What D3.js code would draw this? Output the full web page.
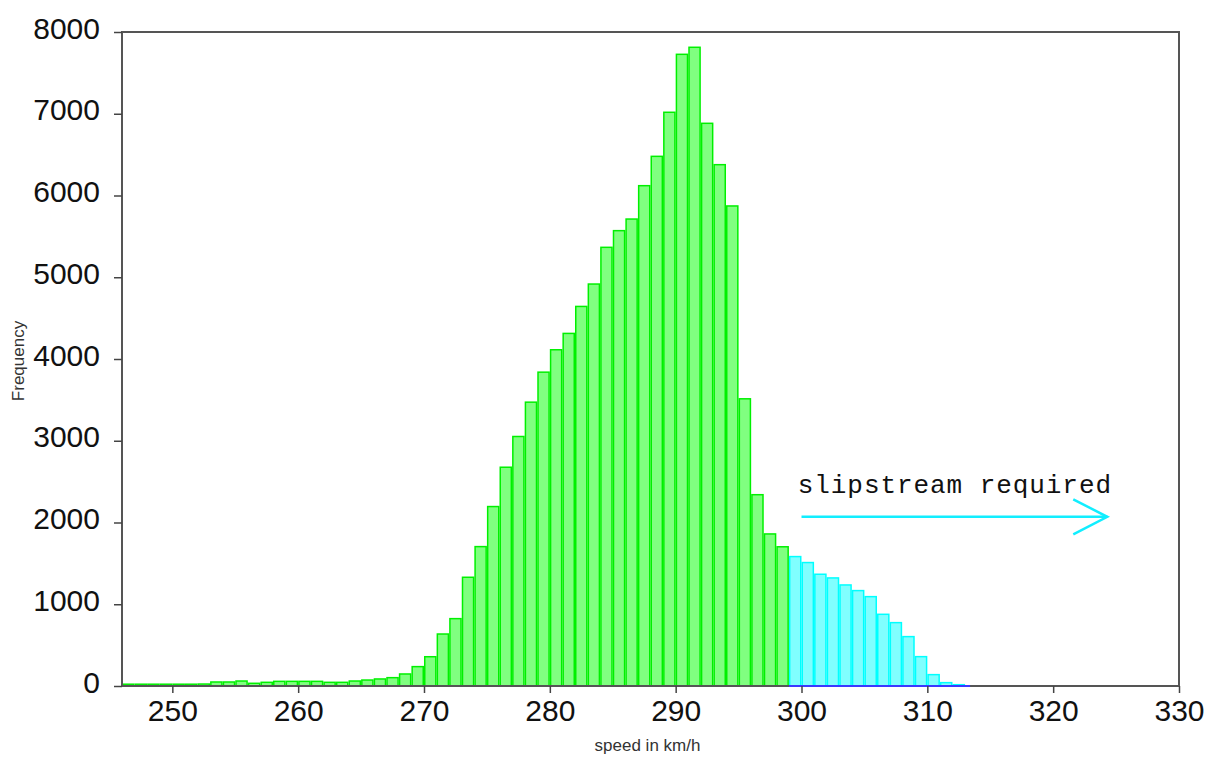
<!DOCTYPE html>
<html>
<head>
<meta charset="utf-8">
<script src="https://cdn.jsdelivr.net/npm/d3@7"></script>
<style>
  html, body { margin: 0; padding: 0; background: #fff; }
  svg { display: block; }
</style>
</head>
<body>
<svg id="chart" width="1214" height="758"></svg>
<script>
// ---- data ----
const speeds = [246,247,248,249,250,251,252,253,254,255,256,257,258,259,260,261,262,263,264,265,
  266,267,268,269,270,271,272,273,274,275,276,277,278,279,280,281,282,283,284,285,
  286,287,288,289,290,291,292,293,294,295,296,297,298,299,300,301,302,303,304,305,
  306,307,308,309,310,311,312];
const counts = [22,22,22,22,22,22,24,49,49,61,33,45,57,57,57,57,45,45,61,73,
  86,102,147,237,358,636,824,1330,1705,2195,2676,3052,3472,3839,4113,4313,4643,4917,5366,5570,
  5712,6120,6479,7018,7727,7813,6883,6377,5872,3513,2340,1860,1703,1583,1510,1367,1322,1236,1167,1093,
  877,775,604,359,139,41,16];
const slipstreamFrom = 299;
const binWidth = 1;
const xTicks = [250,260,270,280,290,300,310,320,330];
const yTicks = [0,1000,2000,3000,4000,5000,6000,7000,8000];
const xDomain = [246, 330];
const yDomain = [0, 8000];
const annotationText = "slipstream required";
const arrowFrom = 300, arrowTo = 324.3, arrowValue = 2070, textValue = 2360, textStart = 299.7, textEnd = 324.6;
const xLabel = "speed in km/h";
const yLabel = "Frequency";

// ---- layout ----
const W = 1214, H = 758;
const m = {left: 122, right: 35, top: 32, bottom: 72};
const svg = d3.select("#chart");
const x = d3.scaleLinear().domain(xDomain).range([m.left, W - m.right]);
const y = d3.scaleLinear().domain(yDomain).range([H - m.bottom, m.top]);

const data = speeds.map((s, i) => ({s, c: counts[i], slip: s >= slipstreamFrom}));

// bars
svg.append("g").selectAll("rect").data(data).join("rect")
  .attr("x", d => x(d.s) + 0.75)
  .attr("width", d => x(d.s + binWidth) - x(d.s) - 1.5)
  .attr("y", d => y(d.c))
  .attr("height", d => y(0) - y(d.c))
  .attr("fill", d => d.slip ? "#80ffff" : "#80ff80")
  .attr("stroke", d => d.slip ? "#00ffff" : "#00f000")
  .attr("stroke-width", 1.5);

// frame
svg.append("rect")
  .attr("x", x(xDomain[0])).attr("y", y(yDomain[1]))
  .attr("width", x(xDomain[1]) - x(xDomain[0]))
  .attr("height", y(0) - y(yDomain[1]))
  .attr("fill", "none").attr("stroke", "#555").attr("stroke-width", 2);

// blue baseline under slipstream bars
const slipData = data.filter(d => d.slip);
svg.append("line")
  .attr("x1", x(slipData[0].s)).attr("x2", x(slipData[slipData.length - 1].s + binWidth) + 5)
  .attr("y1", y(0)).attr("y2", y(0))
  .attr("stroke", "#3a3aff").attr("stroke-width", 2);

// axes
const xAxis = d3.axisBottom(x).tickValues(xTicks).tickSize(7).tickPadding(5).tickFormat(d3.format("d"));
const gx = svg.append("g").attr("transform", `translate(0,${y(0)})`).call(xAxis);
gx.select(".domain").remove();
gx.selectAll("line").attr("stroke", "#444").attr("stroke-width", 1.5);
gx.selectAll("text").attr("font-family", "'Liberation Sans', Arial, sans-serif")
  .attr("font-size", 30).attr("fill", "#111").attr("dy", "0.76em");

const yAxis = d3.axisLeft(y).tickValues(yTicks).tickSize(8).tickPadding(14).tickFormat(d3.format("d"));
const gy = svg.append("g").attr("transform", `translate(${x(xDomain[0])},0)`).call(yAxis);
gy.select(".domain").remove();
gy.selectAll("line").attr("stroke", "#444").attr("stroke-width", 1.5);
gy.selectAll("text").attr("font-family", "'Liberation Sans', Arial, sans-serif")
  .attr("font-size", 30).attr("fill", "#111").attr("dy", "0.2em");

// axis titles
svg.append("text")
  .attr("x", (x(xDomain[0]) + x(xDomain[1])) / 2 - 3).attr("y", H - 7)
  .attr("text-anchor", "middle")
  .attr("font-family", "'Liberation Sans', Arial, sans-serif").attr("font-size", 17)
  .attr("fill", "#333").text(xLabel);
svg.append("text")
  .attr("transform", `translate(24,${(y(0) + y(yDomain[1])) / 2 + 2}) rotate(-90)`)
  .attr("text-anchor", "middle")
  .attr("font-family", "'Liberation Sans', Arial, sans-serif").attr("font-size", 17)
  .attr("fill", "#333").text(yLabel);

// annotation
svg.append("text")
  .attr("x", x(textStart)).attr("y", y(textValue))
  .attr("font-family", "'Courier New', Courier, 'Liberation Mono', monospace")
  .attr("font-size", 26).attr("fill", "#111")
  .attr("textLength", x(textEnd) - x(textStart)).attr("lengthAdjust", "spacing")
  .text(annotationText);

const ax1 = x(arrowFrom), ax2 = x(arrowTo), ay = y(arrowValue);
svg.append("line").attr("x1", ax1).attr("x2", ax2).attr("y1", ay).attr("y2", ay)
  .attr("stroke", "#11eeff").attr("stroke-width", 2.5);
svg.append("path")
  .attr("d", `M${ax2 - 34},${ay - 17.5} L${ax2},${ay} L${ax2 - 34},${ay + 17.5}`)
  .attr("fill", "none").attr("stroke", "#11eeff").attr("stroke-width", 2.5);
</script>
</body>
</html>
